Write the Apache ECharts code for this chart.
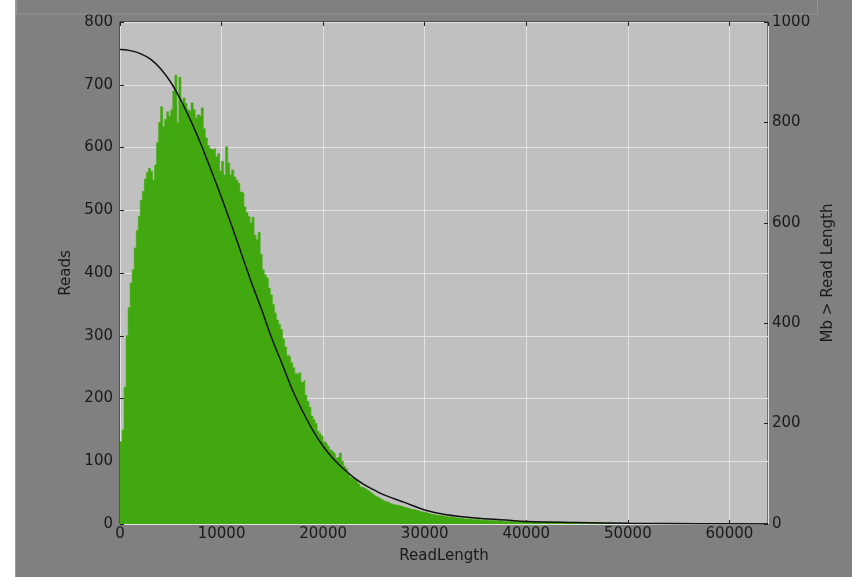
<!DOCTYPE html>
<html>
<head>
<meta charset="utf-8">
<script src="https://cdn.jsdelivr.net/npm/echarts@6/dist/echarts.min.js"></script>
<style>html,body{margin:0;padding:0;background:#808080;}#c{width:852px;height:577px;}</style>
</head>
<body>
<div id="c"></div>
<script>
// Histogram: read counts per 200 bp bin, starting at 0
const binWidth = 200;
const readCounts = [
131,150,218,300,345,384,405,440,468,490,
516,530,550,560,567,562,548,572,608,640,
665,633,645,657,650,660,690,715,640,712,
668,679,670,660,657,671,660,647,652,649,
663,630,615,603,598,596,599,585,590,562,
578,556,601,575,556,564,553,548,543,529,
527,505,496,490,480,489,460,453,465,430,
405,397,392,376,365,350,336,325,318,310,
295,282,269,266,257,249,240,237,241,226,
229,205,195,186,172,166,160,148,144,140,
131,128,124,118,115,112,105,107,113,100,
92,88,80,74,72,71,70,64,59,58,
56,54,52,49,47,44,43,41,39,37,
36,35,33,32,31,30,30,29,28,27,
26,25,24,23,23,22,21,20,19,19,
18,17,16,15,15,14,14,13,13,12,
12,11,11,11,10,10,9,9,9,8,
8,8,8,7,7,7,7,6,6,6,
6,6,6,5,5,5,5,5,4,4,
4,4,4,4,4,4,4,4,4,3,
3,3,3,3,3,3,3,3,3,3,
3,3,3,3,3,3,3,2,2,3,
2,2,2,2,2,2,2,2,2,2,
2,2,2,2,2,2,2,2,1,2,
2,1,2,1,1,2,1,1,1,1,
1,1,1,1,1,1,1,1,1,1,
1,1,1,1,1,1,1,1,0,1,
1,1,0,1,1,0,1,1,0,1,
1,0,1,0,1,1,0,1,0,0,
1,0,0,1,0,1,0,0,1,0,
0,1,0,0,1,0,0,0,1,0,
0,0,1,0,0,0,1,0,0
];
// Cumulative curve: read length (bp) and Mb of reads longer than it
const curveLengths = [0,1000,2000,3000,4000,5000,6000,7000,8000,9000,10000,11000,12000,13000,14000,15000,16000,17000,18000,19000,20000,21000,22000,23000,24000,25000,26000,28000,30000,32000,35000,38000,40000,45000,50000,57000,63800];
const curveMb = [945,943,937,926,907,880,844,802,755,703,650,594,536,478,424,367,317,266,224,186,155,130,110,93,79,68,58,43,28,19,12,8,5,3,1.5,0.5,0];
const xTicks = [0,10000,20000,30000,40000,50000,60000];
const leftTicks = [0,100,200,300,400,500,600,700,800];
const rightTicks = [0,200,400,600,800,1000];

const xMax = readCounts.length * binWidth;
const histData = readCounts.map((c, i) => [i * binWidth, c]);
histData.push([xMax, 0]);
const curveData = curveLengths.map((l, i) => [l, curveMb[i]]);

const txt = '#1a1a1a';
const font = 'DejaVu Sans';
const fs = 15;
const tick = {show: true, inside: true, length: 4, lineStyle: {color: '#202020'}};
const chart = echarts.init(document.getElementById('c'), null, {renderer: 'canvas'});
chart.setOption({
  backgroundColor: '#808080',
  animation: false,
  textStyle: {fontFamily: font},
  grid: {left: 120, right: 84, top: 22, bottom: 53, show: true, backgroundColor: '#c0c0c0', borderColor: '#202020', borderWidth: 1, containLabel: false},
  xAxis: [{
    type: 'value', min: 0, max: xMax, interval: xTicks[1] - xTicks[0],
    axisLine: {show: false, onZero: false},
    axisTick: tick,
    axisLabel: {color: txt, fontSize: fs, fontFamily: font, margin: 3, showMaxLabel: false,
      formatter: v => xTicks.includes(v) ? String(v) : ''},
    splitLine: {show: true, lineStyle: {color: '#e2e2e2', width: 1}},
    name: 'ReadLength', nameLocation: 'middle', nameGap: 25,
    nameTextStyle: {color: txt, fontSize: fs, fontFamily: font}
  }, {
    type: 'value', position: 'top', min: 0, max: xMax, interval: xTicks[1] - xTicks[0],
    axisLine: {show: false, onZero: false}, axisLabel: {show: false}, splitLine: {show: false},
    axisTick: tick
  }],
  yAxis: [{
    type: 'value', position: 'left', min: leftTicks[0], max: leftTicks[leftTicks.length - 1], interval: leftTicks[1] - leftTicks[0],
    axisLine: {show: false, onZero: false},
    axisTick: tick,
    axisLabel: {color: txt, fontSize: fs, fontFamily: font, margin: 7},
    splitLine: {show: true, lineStyle: {color: '#e2e2e2', width: 1}},
    name: 'Reads', nameLocation: 'middle', nameGap: 45,
    nameTextStyle: {color: txt, fontSize: fs, fontFamily: font}
  }, {
    type: 'value', position: 'right', min: rightTicks[0], max: rightTicks[rightTicks.length - 1], interval: rightTicks[1] - rightTicks[0],
    axisLine: {show: false, onZero: false},
    axisTick: tick,
    axisLabel: {color: txt, fontSize: fs, fontFamily: font, margin: 4, formatter: v => String(v)},
    splitLine: {show: false},
    name: 'Mb > Read Length', nameLocation: 'middle', nameGap: 50, nameRotate: 90,
    nameTextStyle: {color: txt, fontSize: fs, fontFamily: font}
  }],
  series: [{
    type: 'line', name: 'Reads', xAxisIndex: 0, yAxisIndex: 0,
    step: 'end', symbol: 'none', data: histData,
    lineStyle: {width: 0.6, color: '#41a90f'},
    areaStyle: {color: '#41a90f', opacity: 1},
    silent: true
  }, {
    type: 'line', name: 'Mb', xAxisIndex: 0, yAxisIndex: 1,
    smooth: 0.4, symbol: 'none', data: curveData,
    lineStyle: {width: 1.5, color: '#111111'},
    silent: true
  }],
  graphic: [
    {type: 'text', z: 90, x: 438, y: 17, style: {text: 'Read Hist.', fontSize: 15, fontFamily: font, fill: txt, align: 'center', verticalAlign: 'bottom'}},
    {type: 'rect', z: 100, shape: {x: 16.5, y: -1, width: 801, height: 15}, style: {fill: '#808080', stroke: '#959595', lineWidth: 1}},
    {type: 'rect', z: 100, shape: {x: 0, y: 0, width: 15, height: 577}, style: {fill: '#ffffff'}},
    {type: 'line', z: 100, shape: {x1: 15.5, y1: 0, x2: 15.5, y2: 577}, style: {stroke: '#9a9a9a', lineWidth: 1}}
  ]
});
</script>
</body>
</html>
